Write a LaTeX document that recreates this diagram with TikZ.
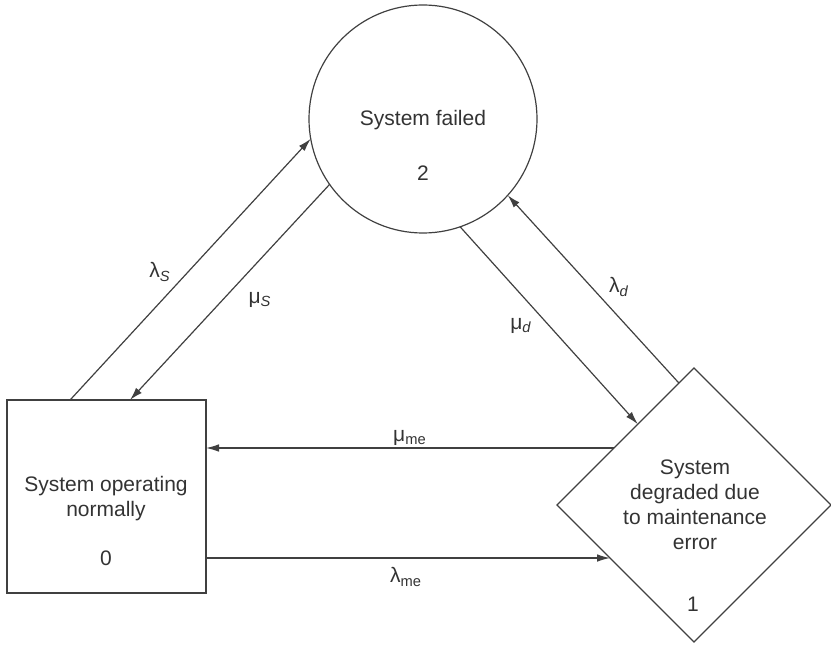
\documentclass[tikz,border=0pt]{standalone}
\usepackage{fontspec}
\setmainfont{Liberation Sans}
\usetikzlibrary{arrows.meta,calc,shapes.geometric}
\begin{document}
\begin{tikzpicture}[x=0.5pt,y=-0.5pt,
  every node/.style={text=black!80, font=\fontsize{10.5}{12.5}\selectfont},
  shapeline/.style={draw=black!75, line width=0.6pt, inner sep=0pt, outer sep=0pt},
  conn/.style={draw=black!75, line width=0.6pt, -{Latex[length=6.5pt,width=3.8pt]}},
  txt/.style={inner sep=0pt, align=center},
  lbl/.style={inner sep=0pt}]
\useasboundingbox (0,0) rectangle (831,647);
% states
\node[shapeline, circle, minimum size=114pt] (fail) at (423,119) {};
\node[shapeline, rectangle, minimum width=99.5pt, minimum height=96.5pt] (op) at (106.5,496.5) {};
\node[shapeline, diamond, minimum width=137pt, minimum height=137pt] (deg) at (694,505) {};
% state texts
\node[txt] (failt) at (423,120) {System failed};
\node[txt] (failn) at (423,173) {2};
\node[txt] (opt) at (106,499) {System operating\\normally};
\node[txt] (opn) at (106,558) {0};
\node[txt] (degt) at (695,505) {System\\degraded due\\to maintenance\\error};
\node[txt] (degn) at (693,604) {1};
% connector end points
\coordinate (lsS) at ($(op.north west)!0.317!(op.north east)$);
\coordinate (msE) at ($(op.north west)!0.618!(op.north east)$);
\coordinate (mdE) at ($(deg.north)!0.41!(deg.west)$);
\coordinate (ldS) at ($(deg.north)!0.11!(deg.west)$);
\coordinate (mmeS) at ($(deg.north)!0.584!(deg.west)$);
\coordinate (lmeE) at ($(deg.west)!0.387!(deg.south)$);
% connectors
\draw[conn] (lsS) -- (fail.190);
\draw[conn] (fail.215) -- (msE);
\draw[conn] (fail.289) -- (mdE);
\draw[conn] (ldS) -- (fail.318);
\draw[conn] (mmeS) -- (mmeS -| op.east);
\draw[conn] (lmeE -| op.east) -- (lmeE);
% labels
\node[lbl] (labS) at (160,272) {λ\textsubscript{\itshape S}};
\node[lbl] (lmuS) at (260,300) {μ\textsubscript{\itshape S}};
\node[lbl] (lmud) at (521,326) {μ\textsubscript{\itshape d}};
\node[lbl] (llad) at (619,287) {λ\textsubscript{\itshape d}};
\node[lbl] (lmume) at (410,438) {μ\textsubscript{me}};
\node[lbl] (llame) at (406,577) {λ\textsubscript{me}};
\end{tikzpicture}
\end{document}
